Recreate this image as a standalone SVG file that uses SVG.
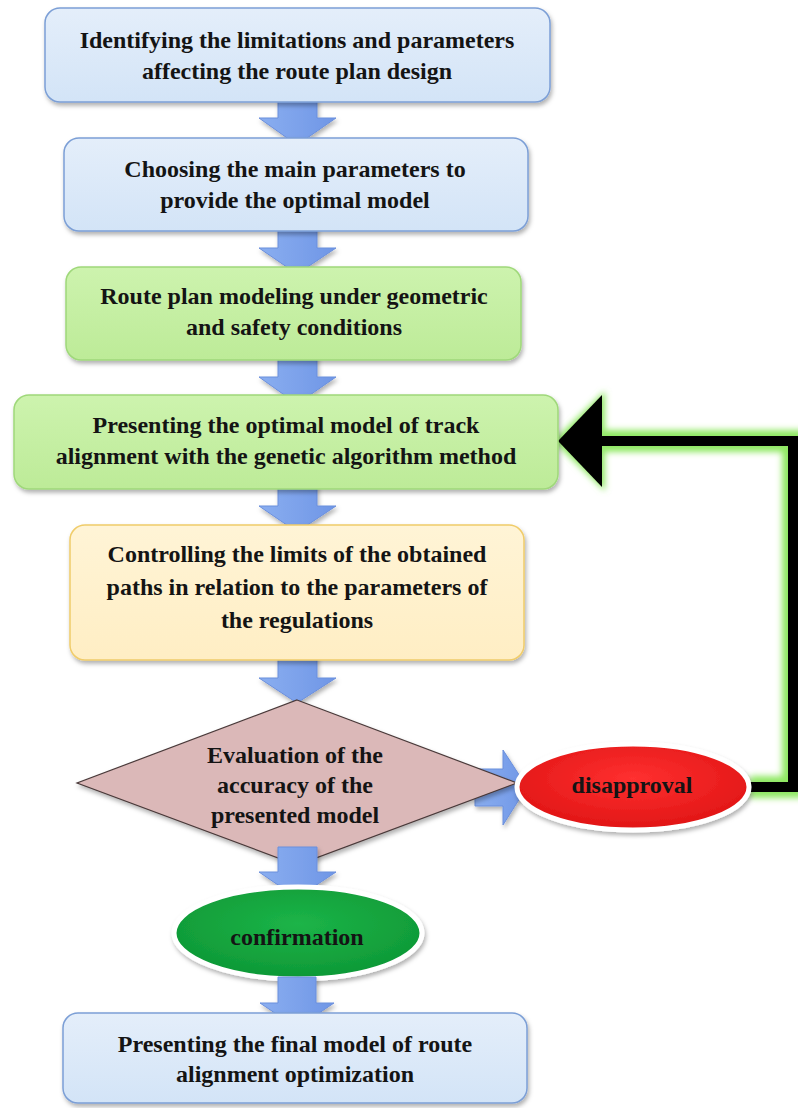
<svg xmlns="http://www.w3.org/2000/svg" width="798" height="1108" viewBox="0 0 798 1108">
<defs>
<style>
.t{font-family:"Liberation Serif","Times New Roman",serif;font-weight:bold;font-size:24px;fill:#141414;text-anchor:middle}
.blue{fill:url(#gBlue);stroke:#7c9fd6;stroke-width:1.5}
.green{fill:url(#gGreen);stroke:#9fd87a;stroke-width:1.5}
.yellow{fill:url(#gYellow);stroke:#f0cc6a;stroke-width:1.5}
.arr{fill:url(#gArr);stroke:#6b8fdc;stroke-width:1}
</style>
<linearGradient id="gBlue" x1="0" y1="0" x2="0" y2="1"><stop offset="0" stop-color="#e4eefa"/><stop offset="1" stop-color="#d3e4f7"/></linearGradient>
<linearGradient id="gGreen" x1="0" y1="0" x2="0" y2="1"><stop offset="0" stop-color="#cdf3ae"/><stop offset="1" stop-color="#bdeb98"/></linearGradient>
<linearGradient id="gYellow" x1="0" y1="0" x2="0" y2="1"><stop offset="0" stop-color="#fff4d6"/><stop offset="1" stop-color="#ffeec4"/></linearGradient>
<linearGradient id="gArr" x1="0" y1="0" x2="1" y2="0"><stop offset="0" stop-color="#8aaef0"/><stop offset="1" stop-color="#6f96e6"/></linearGradient>
<radialGradient id="gRed" cx="0.5" cy="0.4" r="0.6"><stop offset="0" stop-color="#ff3030"/><stop offset="1" stop-color="#e01515"/></radialGradient>
<radialGradient id="gGrn" cx="0.5" cy="0.4" r="0.6"><stop offset="0" stop-color="#1cb448"/><stop offset="1" stop-color="#0e9836"/></radialGradient>
<filter id="sh" x="-10%" y="-10%" width="120%" height="130%"><feDropShadow dx="1.5" dy="3" stdDeviation="2" flood-color="#000" flood-opacity="0.3"/></filter>
<filter id="glow" x="-20%" y="-20%" width="140%" height="140%"><feGaussianBlur stdDeviation="3"/></filter>
</defs>
<rect width="798" height="1108" fill="#fff"/>

<g id="connectors">
  <g id="feedback">
    <g filter="url(#glow)" fill="none" stroke="#8fe862" stroke-width="22">
      <polyline points="750,787 793,787 793,441 600,441"/>
    </g>
    <polygon points="553,441 605,391 605,491" fill="#8fe862" filter="url(#glow)"/>
    <polyline points="750,787 793,787 793,441 598,441" fill="none" stroke="#000" stroke-width="10"/>
    <polygon points="558,441 602,395 602,487" fill="#000"/>
  </g>
  <polygon class="arr" filter="url(#sh)" points="278,92 317,92 317,118 336,118 297,145 259,118 278,118"/>
  <polygon class="arr" filter="url(#sh)" points="278,222 317,222 317,248 336,248 297,274 259,248 278,248"/>
  <polygon class="arr" filter="url(#sh)" points="278,350 317,350 317,377 336,377 297,404 259,377 278,377"/>
  <polygon class="arr" filter="url(#sh)" points="278,480 317,480 317,506 336,506 297,532 259,506 278,506"/>
  <polygon class="arr" filter="url(#sh)" points="278,652 317,652 317,678 336,678 297,703 259,678 278,678"/>
  <polygon class="arr" filter="url(#sh)" points="475,769 503,769 503,750 527,787 503,825 503,806 475,806"/>
</g>

<g id="n1">
  <rect class="blue" filter="url(#sh)" x="45" y="8" width="505" height="94" rx="15"/>
  <text class="t" x="297" y="48">Identifying the limitations and parameters</text>
  <text class="t" x="297" y="79">affecting the route plan design</text>
</g>
<g id="n2">
  <rect class="blue" filter="url(#sh)" x="64" y="138" width="464" height="93" rx="15"/>
  <text class="t" x="295" y="177">Choosing the main parameters to</text>
  <text class="t" x="295" y="208">provide the optimal model</text>
</g>
<g id="n3">
  <rect class="green" filter="url(#sh)" x="66" y="267" width="455" height="93" rx="15"/>
  <text class="t" x="294" y="304">Route plan modeling under geometric</text>
  <text class="t" x="294" y="335">and safety conditions</text>
</g>
<g id="n4">
  <rect class="green" filter="url(#sh)" x="14" y="395" width="544" height="94" rx="15"/>
  <text class="t" x="286" y="433">Presenting the optimal model of track</text>
  <text class="t" x="286" y="464">alignment with the genetic algorithm method</text>
</g>
<g id="n5">
  <rect class="yellow" filter="url(#sh)" x="70" y="525" width="454" height="135" rx="15"/>
  <text class="t" x="297" y="562">Controlling the limits of the obtained</text>
  <text class="t" x="297" y="595">paths in relation to the parameters of</text>
  <text class="t" x="297" y="628">the regulations</text>
</g>
<g id="n6">
  <polygon filter="url(#sh)" points="297,700 517,783 297,865 77,783" fill="#dbb8b8" stroke="#4a3a3a" stroke-width="1.2"/>
  <text class="t" x="295" y="763">Evaluation of the</text>
  <text class="t" x="295" y="793">accuracy of the</text>
  <text class="t" x="295" y="823">presented model</text>
</g>
<polygon class="arr" filter="url(#sh)" points="278,847 317,847 317,872 336,872 297,898 259,872 278,872"/>
<g id="n7">
  <ellipse filter="url(#sh)" cx="633" cy="787" rx="116" ry="43" fill="url(#gRed)" stroke="#fff" stroke-width="5"/>
  <text class="t" x="632" y="793">disapproval</text>
</g>
<g id="n8">
  <ellipse filter="url(#sh)" cx="298" cy="933" rx="124" ry="46" fill="url(#gGrn)" stroke="#fff" stroke-width="5"/>
  <text class="t" x="297" y="945">confirmation</text>
</g>
<polygon class="arr" filter="url(#sh)" points="278,977 316,977 316,1003 334,1003 297,1028 260,1003 278,1003"/>
<g id="n9">
  <rect class="blue" filter="url(#sh)" x="63" y="1013" width="464" height="90" rx="15"/>
  <text class="t" x="295" y="1052">Presenting the final model of route</text>
  <text class="t" x="295" y="1082">alignment optimization</text>
</g>
</svg>
